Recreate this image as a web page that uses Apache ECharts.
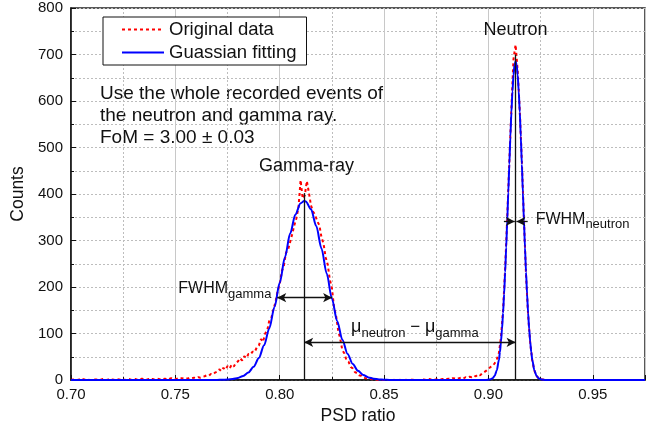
<!DOCTYPE html>
<html>
<head>
<meta charset="utf-8">
<script src="https://cdn.jsdelivr.net/npm/echarts@6/dist/echarts.min.js"></script>
<style>
  html, body { margin: 0; padding: 0; background: #fff; }
  #chart { width: 667px; height: 431px; }
</style>
</head>
<body>
<div id="chart"></div>
<script>
// histogram of the original data, one bin every 0.001 starting at 0.700
const binStart = 0.700
const binWidth = 0.001
const originalCounts = [
  0, 1, 0, 0, 1, 0, 2, 0, 1, 0,
  0, 1, 1, 0, 0, 2, 1, 0, 1, 0,
  1, 0, 2, 1, 0, 1, 0, 1, 2, 0,
  1, 2, 0, 1, 3, 1, 0, 2, 1, 2,
  1, 3, 2, 1, 2, 3, 1, 2, 4, 2,
  2, 3, 2, 4, 3, 4, 3, 5, 4, 5,
  4, 6, 5, 7, 8, 10, 9, 13, 12, 16,
  18, 23, 19, 26, 22, 30, 25, 33, 29, 37,
  40, 47, 42, 51, 47, 56, 55, 61, 60, 70,
  74, 88, 82, 100, 106, 128, 134, 152, 168, 192,
  206, 234, 246, 274, 280, 297, 314, 333, 348, 372,
  430, 390, 397, 428, 402, 375, 362, 355, 341, 333,
  307, 293, 264, 248, 216, 198, 157, 138, 107, 88,
  64, 57, 42, 39, 28, 25, 17, 15, 10, 9,
  5, 4, 3, 2, 2, 1, 1, 0, 1, 0,
  0, 1, 0, 0, 1, 0, 0, 1, 0, 0,
  1, 0, 0, 1, 0, 1, 0, 0, 1, 1,
  0, 1, 2, 0, 1, 1, 2, 1, 2, 1,
  2, 3, 2, 4, 3, 2, 4, 5, 3, 6,
  5, 7, 6, 9, 8, 12, 10, 14, 17, 20,
  24, 28, 30, 36, 45, 58, 92, 150, 240, 350,
  470, 585, 690, 721, 665, 580, 470, 345, 225, 140,
  80, 42, 20, 9, 4, 2, 1, 0, 0, 0,
  0, 0, 0, 0, 0, 0, 0, 0, 0, 0,
  0, 0, 0, 0, 0, 0, 0, 0, 0, 0,
  0, 0, 0, 0, 0, 0, 0, 0, 0, 0,
  0, 0, 0, 0, 0, 0, 0, 0, 0, 0,
  0, 0, 0, 0, 0, 0
]

// gaussian fitting curve
const fitX = [
  0.700, 0.765, 0.770, 0.7725, 0.775, 0.7775, 0.780, 0.7825, 0.785, 0.7875,
  0.790, 0.7925, 0.795, 0.7975, 0.800, 0.8025, 0.805, 0.8075, 0.810, 0.8117,
  0.8125, 0.815, 0.8175, 0.820, 0.8225, 0.825, 0.8275, 0.830, 0.8325, 0.835,
  0.8375, 0.840, 0.8425, 0.845, 0.8475, 0.850, 0.8525, 0.855,
  0.898, 0.899, 0.900, 0.901, 0.902, 0.903, 0.904, 0.905, 0.9055, 0.906,
  0.9065, 0.907, 0.9075, 0.908, 0.9085, 0.909, 0.9095, 0.910, 0.9105, 0.911,
  0.9115, 0.912, 0.9125, 0.913, 0.9135, 0.914, 0.9145, 0.915, 0.9155, 0.916,
  0.9165, 0.917, 0.9175, 0.918, 0.9185, 0.919, 0.9195, 0.920, 0.9205, 0.921,
  0.922, 0.923, 0.924, 0.925, 0.926, 0.927, 0.928, 0.975
]
const fitY = [
  0, 0, 0.2, 0.4, 1.0, 2.1, 4.4, 8.7, 16.1, 28.4,
  47.4, 74.6, 111, 157, 209, 264, 315, 356, 380, 385,
  384, 367, 331, 283, 229, 175, 127, 86.7, 56.1, 34.3,
  19.9, 10.9, 5.6, 2.8, 1.3, 0.6, 0.2, 0,
  0, 0.15, 0.5, 1.4, 3.7, 9.1, 20.6, 43, 60, 82.3,
  110, 144, 185, 232, 285, 343, 403, 464, 523, 576,
  621, 656, 678, 685, 678, 656, 621, 576, 523, 464,
  403, 343, 285, 232, 185, 144, 110, 82.3, 60, 43,
  20.6, 9.1, 3.7, 1.4, 0.5, 0.15, 0, 0
]

// annotation positions in data units
const muGamma = 0.8117
const muNeutron = 0.9130
const gammaLineTop = 402
const neutronLineTop = 700
const fwhmGamma = [0.7988, 0.8251, 177]
const fwhmNeutron = [0.9074, 0.9126, 0.9134, 0.9188, 341]
const muArrowY = 81

const font = 'Liberation Sans, Arial, sans-serif'
const originalData = originalCounts.map((v, i) => [+(binStart + i * binWidth).toFixed(4), v])
const fitData = fitX.map((x, i) => [x, fitY[i]])

const arrowLine = (from, to, s1, s2) => [
  { coord: from, symbol: s1, symbolSize: [7, 9] },
  { coord: to, symbol: s2, symbolSize: [7, 9] }
]

const textPoint = (coord, text, align) => ({
  coord: coord,
  symbol: 'rect',
  symbolSize: 1,
  itemStyle: { color: 'rgba(0,0,0,0)' },
  label: {
    show: true,
    position: 'inside',
    align: align,
    verticalAlign: 'middle',
    formatter: text,
    color: '#111',
    fontFamily: font,
    fontSize: 16,
    rich: {
      b: { fontSize: 18, lineHeight: 24, verticalAlign: 'middle', fontFamily: font, color: '#111' },
      m: { fontSize: 16, lineHeight: 24, verticalAlign: 'middle', fontFamily: font, color: '#111' },
      k: { fontSize: 17, lineHeight: 24, verticalAlign: 'middle', fontFamily: font, color: '#111' },
      s: { fontSize: 13, lineHeight: 12, verticalAlign: 'bottom', fontFamily: font, color: '#111' },
      u: { fontSize: 18, lineHeight: 24, verticalAlign: 'middle', fontFamily: font, color: '#111' }
    }
  }
})

const chart = echarts.init(document.getElementById('chart'))
chart.setOption({
  animation: false,
  backgroundColor: '#fff',
  grid: {
    left: 71, right: 22, top: 8, bottom: 51,
    show: true, borderColor: '#222', borderWidth: 1.5
  },
  legend: {
    data: ['Original data', 'Guassian fitting'],
    orient: 'vertical',
    left: 103,
    top: 17,
    padding: [3, 10, 3, 18],
    itemWidth: 42,
    itemHeight: 14,
    itemGap: 4,
    itemStyle: { opacity: 0 },
    borderColor: '#111',
    borderWidth: 1,
    backgroundColor: '#fff',
    textStyle: { fontFamily: font, fontSize: 18.5, color: '#111' }
  },
  graphic: [{
    type: 'text',
    left: 100,
    top: 83,
    style: {
      text: 'Use the whole recorded events of\nthe neutron and gamma ray.\nFoM = 3.00 \u00b1 0.03',
      font: '19px ' + font,
      lineHeight: 22,
      fill: '#111'
    }
  }],
  xAxis: {
    type: 'value',
    min: 0.70,
    max: 0.975,
    interval: 0.05,
    name: 'PSD ratio',
    nameLocation: 'middle',
    nameGap: 24,
    nameTextStyle: { fontFamily: font, fontSize: 17.5, color: '#111' },
    axisLine: { lineStyle: { color: '#111', width: 1.5 } },
    axisTick: { inside: true, length: 5, lineStyle: { color: '#111' } },
    minorTick: { show: true, splitNumber: 2, length: 3, lineStyle: { color: '#111' } },
    axisLabel: {
      showMaxLabel: false,
      margin: 7,
      fontFamily: font,
      fontSize: 15,
      color: '#111',
      formatter: v => v.toFixed(2)
    },
    splitLine: { show: true, lineStyle: { color: '#c8c8c8', width: 1 } },
    minorSplitLine: { show: true, lineStyle: { color: '#bdbdbd', type: [2, 2] } }
  },
  yAxis: {
    type: 'value',
    min: 0,
    max: 800,
    interval: 100,
    name: 'Counts',
    nameLocation: 'middle',
    nameGap: 36,
    nameTextStyle: { fontFamily: font, fontSize: 17.5, color: '#111' },
    axisLine: { show: true, lineStyle: { color: '#111', width: 1.5 } },
    axisTick: { show: true, inside: true, length: 5, lineStyle: { color: '#111' } },
    minorTick: { show: true, splitNumber: 2, length: 3, lineStyle: { color: '#111' } },
    axisLabel: { margin: 8, fontFamily: font, fontSize: 15, color: '#111' },
    splitLine: { show: true, lineStyle: { color: '#bdbdbd', type: [2, 2] } },
    minorSplitLine: { show: true, lineStyle: { color: '#bdbdbd', type: [2, 2] } }
  },
  series: [
    {
      name: 'Original data',
      type: 'line',
      data: originalData,
      symbol: 'none',
      color: '#ff0000',
      lineStyle: { color: '#ff0000', width: 2, type: [3, 3] },
      z: 2
    },
    {
      name: 'Guassian fitting',
      type: 'line',
      data: fitData,
      symbol: 'none',
      smooth: 0.3,
      smoothMonotone: 'x',
      color: '#0000ff',
      lineStyle: { color: '#0000ff', width: 2 },
      z: 3,
      markLine: {
        silent: true,
        symbol: ['none', 'none'],
        label: { show: false },
        lineStyle: { color: '#111', width: 1.3, type: 'solid' },
        data: [
          arrowLine([muGamma, 0], [muGamma, gammaLineTop], 'none', 'none'),
          arrowLine([muNeutron, 0], [muNeutron, neutronLineTop], 'none', 'none'),
          arrowLine([fwhmGamma[0], fwhmGamma[2]], [fwhmGamma[1], fwhmGamma[2]], 'arrow', 'arrow'),
          arrowLine([fwhmNeutron[0], fwhmNeutron[4]], [fwhmNeutron[1], fwhmNeutron[4]], 'none', 'arrow'),
          arrowLine([fwhmNeutron[3], fwhmNeutron[4]], [fwhmNeutron[2], fwhmNeutron[4]], 'none', 'arrow'),
          arrowLine([muGamma, muArrowY], [muNeutron, muArrowY], 'arrow', 'arrow')
        ]
      },
      markPoint: {
        silent: true,
        data: [
          textPoint([0.8128, 460], '{b|Gamma-ray}', 'center'),
          textPoint([0.9130, 753], '{b|Neutron}', 'center'),
          textPoint([0.7514, 196], '{m|FWHM}{s|gamma}', 'left'),
          textPoint([0.9226, 346], '{m|FWHM}{s|neutron}', 'left'),
          textPoint([0.8342, 113], '{u|\u03bc}{s|neutron}{k| \u2212 }{u|\u03bc}{s|gamma}', 'left')
        ]
      }
    }
  ]
})
</script>
</body>
</html>
